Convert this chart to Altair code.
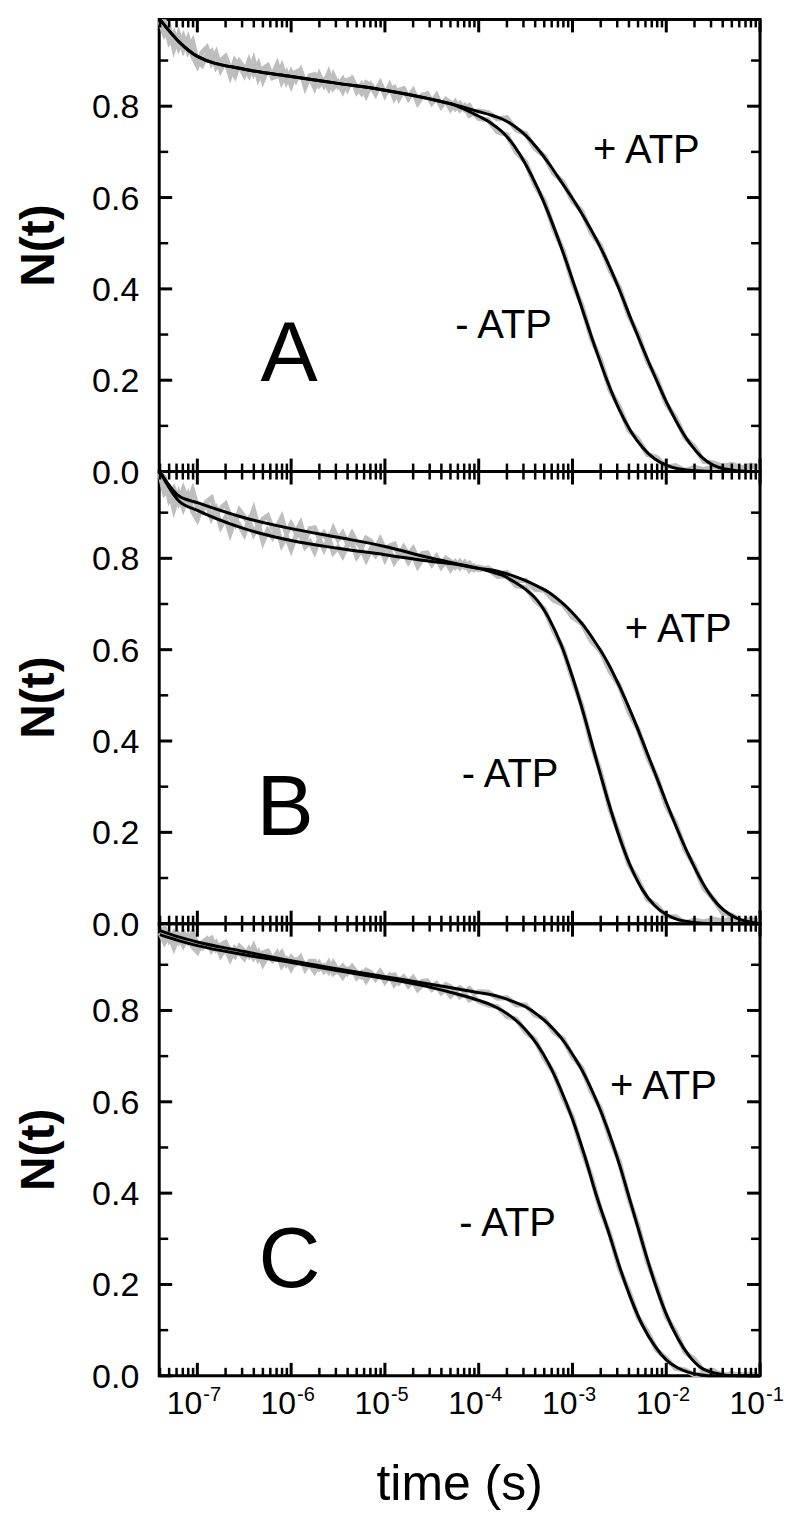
import altair as alt
import pandas as pd

# ---------------- data ----------------
# measured traces: sampling grid, log10(time / s)
DATA_LOGT = [
    -7.40, -7.35, -7.30, -7.25, -7.20, -7.15, -7.10, -7.05, -7.00,
    -6.95, -6.90, -6.85, -6.80, -6.75, -6.70, -6.65, -6.60, -6.55, -6.50,
    -6.45, -6.40, -6.35, -6.30, -6.25, -6.20, -6.15, -6.10, -6.05, -6.00,
    -5.95, -5.90, -5.85, -5.80, -5.75, -5.70, -5.65, -5.60, -5.55, -5.50,
    -5.45, -5.40, -5.35, -5.30, -5.25, -5.20, -5.15, -5.10, -5.05, -5.00,
    -4.95, -4.90, -4.85, -4.80, -4.75, -4.70, -4.65, -4.60, -4.55, -4.50,
    -4.45, -4.40, -4.35, -4.30, -4.25, -4.20, -4.15, -4.10, -4.05, -4.00,
    -3.9, -3.8, -3.7, -3.6, -3.5, -3.4, -3.3, -3.2, -3.1, -3.0,
    -2.9, -2.8, -2.7, -2.6, -2.5, -2.4, -2.3, -2.2, -2.1, -2.0,
    -1.9, -1.8, -1.7, -1.6, -1.5, -1.4, -1.3, -1.2, -1.1, -1.0]

DATA_A_MINUS = [
    0.985, 0.957, 0.972, 0.926, 0.957, 0.924, 0.948, 0.909, 0.889,
    0.918, 0.928, 0.895, 0.916, 0.880, 0.900, 0.867, 0.900, 0.887, 0.869,
    0.899, 0.872, 0.892, 0.857, 0.882, 0.868, 0.891, 0.854, 0.873, 0.846,
    0.874, 0.879, 0.851, 0.863, 0.841, 0.869, 0.847, 0.872, 0.840, 0.852,
    0.833, 0.857, 0.860, 0.832, 0.847, 0.824, 0.847, 0.834, 0.850, 0.825,
    0.845, 0.818, 0.835, 0.838, 0.817, 0.832, 0.807, 0.822, 0.827, 0.809,
    0.824, 0.801, 0.812, 0.794, 0.809, 0.792, 0.801, 0.780, 0.785, 0.773,
    0.770, 0.744, 0.738, 0.699, 0.678, 0.627, 0.593, 0.531, 0.485, 0.414,
    0.364, 0.292, 0.244, 0.178, 0.141, 0.091, 0.070, 0.037, 0.031, 0.010,
    0.013, 0.002, 0.009, 0.004, 0.011, 0.005, 0.013, 0.006, 0.012, 0.008]
DATA_A_PLUS = [
    0.985, 0.985, 0.942, 0.959, 0.928, 0.952, 0.920, 0.941, 0.899,
    0.890, 0.912, 0.920, 0.886, 0.900, 0.909, 0.881, 0.866, 0.897, 0.883,
    0.868, 0.900, 0.861, 0.882, 0.889, 0.862, 0.866, 0.887, 0.854, 0.875,
    0.857, 0.877, 0.842, 0.867, 0.869, 0.846, 0.857, 0.839, 0.867, 0.845,
    0.859, 0.838, 0.859, 0.841, 0.829, 0.851, 0.845, 0.827, 0.849, 0.828,
    0.837, 0.841, 0.817, 0.835, 0.820, 0.834, 0.812, 0.825, 0.826, 0.807,
    0.818, 0.800, 0.815, 0.808, 0.795, 0.806, 0.793, 0.801, 0.785, 0.790,
    0.786, 0.772, 0.775, 0.748, 0.740, 0.707, 0.691, 0.653, 0.634, 0.593,
    0.570, 0.523, 0.494, 0.441, 0.403, 0.341, 0.300, 0.241, 0.203, 0.148,
    0.118, 0.074, 0.054, 0.022, 0.019, 0.012, 0.016, 0.008, 0.014, 0.010]
DATA_B_MINUS = [
    0.987, 0.977, 0.930, 0.951, 0.923, 0.951, 0.923, 0.949, 0.912,
    0.902, 0.924, 0.932, 0.896, 0.910, 0.919, 0.891, 0.875, 0.905, 0.891,
    0.876, 0.906, 0.867, 0.886, 0.893, 0.866, 0.868, 0.889, 0.854, 0.875,
    0.857, 0.876, 0.841, 0.865, 0.867, 0.844, 0.855, 0.836, 0.864, 0.841,
    0.855, 0.833, 0.854, 0.835, 0.823, 0.844, 0.838, 0.819, 0.841, 0.819,
    0.827, 0.831, 0.806, 0.824, 0.808, 0.821, 0.799, 0.811, 0.812, 0.792,
    0.803, 0.786, 0.800, 0.794, 0.781, 0.793, 0.781, 0.789, 0.775, 0.781,
    0.776, 0.761, 0.761, 0.740, 0.736, 0.708, 0.689, 0.641, 0.602, 0.535,
    0.477, 0.394, 0.331, 0.250, 0.195, 0.130, 0.096, 0.053, 0.040, 0.016,
    0.015, 0.002, 0.008, 0.004, 0.010, 0.006, 0.011, 0.005, 0.009, 0.006]
DATA_B_PLUS = [
    0.985, 0.942, 0.952, 0.908, 0.941, 0.910, 0.937, 0.902, 0.885,
    0.913, 0.922, 0.888, 0.907, 0.870, 0.889, 0.855, 0.887, 0.872, 0.853,
    0.882, 0.854, 0.873, 0.837, 0.861, 0.846, 0.868, 0.830, 0.848, 0.820,
    0.848, 0.853, 0.825, 0.836, 0.815, 0.842, 0.820, 0.844, 0.813, 0.824,
    0.806, 0.829, 0.833, 0.804, 0.820, 0.797, 0.820, 0.807, 0.823, 0.798,
    0.818, 0.792, 0.809, 0.813, 0.792, 0.808, 0.783, 0.799, 0.804, 0.787,
    0.803, 0.781, 0.793, 0.776, 0.792, 0.779, 0.791, 0.774, 0.783, 0.775,
    0.779, 0.765, 0.769, 0.751, 0.752, 0.732, 0.730, 0.708, 0.699, 0.671,
    0.657, 0.619, 0.597, 0.552, 0.521, 0.464, 0.425, 0.365, 0.321, 0.258,
    0.220, 0.162, 0.127, 0.078, 0.055, 0.024, 0.019, 0.006, 0.009, 0.005]
DATA_C_MINUS = [
    0.970, 0.949, 0.966, 0.938, 0.964, 0.943, 0.962, 0.939, 0.928,
    0.948, 0.956, 0.932, 0.947, 0.921, 0.936, 0.913, 0.936, 0.926, 0.914,
    0.934, 0.915, 0.928, 0.902, 0.920, 0.910, 0.925, 0.898, 0.911, 0.892,
    0.911, 0.913, 0.894, 0.901, 0.885, 0.903, 0.887, 0.904, 0.881, 0.888,
    0.874, 0.891, 0.893, 0.872, 0.882, 0.865, 0.881, 0.870, 0.882, 0.863,
    0.876, 0.857, 0.868, 0.870, 0.854, 0.864, 0.846, 0.856, 0.859, 0.846,
    0.855, 0.839, 0.846, 0.832, 0.842, 0.830, 0.837, 0.823, 0.828, 0.820,
    0.812, 0.808, 0.787, 0.781, 0.753, 0.736, 0.695, 0.664, 0.609, 0.566,
    0.495, 0.437, 0.362, 0.309, 0.235, 0.186, 0.128, 0.096, 0.056, 0.038,
    0.016, 0.013, 0.002, 0.005, 0.001, 0.004, 0.000, 0.003, 0.001, 0.002]
DATA_C_PLUS = [
    0.973, 0.979, 0.954, 0.970, 0.951, 0.971, 0.951, 0.970, 0.943,
    0.937, 0.952, 0.958, 0.934, 0.944, 0.949, 0.929, 0.919, 0.940, 0.930,
    0.919, 0.940, 0.912, 0.926, 0.930, 0.911, 0.912, 0.926, 0.902, 0.916,
    0.903, 0.916, 0.891, 0.908, 0.908, 0.891, 0.898, 0.885, 0.904, 0.887,
    0.897, 0.882, 0.896, 0.882, 0.874, 0.888, 0.883, 0.869, 0.885, 0.869,
    0.875, 0.878, 0.861, 0.873, 0.862, 0.872, 0.856, 0.864, 0.865, 0.851,
    0.859, 0.846, 0.857, 0.852, 0.842, 0.850, 0.841, 0.848, 0.837, 0.841,
    0.840, 0.827, 0.828, 0.812, 0.812, 0.790, 0.782, 0.753, 0.738, 0.699,
    0.674, 0.622, 0.585, 0.520, 0.468, 0.389, 0.328, 0.249, 0.195, 0.130,
    0.096, 0.052, 0.036, 0.010, 0.012, 0.001, 0.005, 0.000, 0.003, 0.001]

# fitted curves
FIT_LOGT = [-7.4, -7.2, -7.0, -6.5, -6.0, -5.5, -5.0, -4.5, -4.25, -4.0,
            -3.875, -3.75, -3.625, -3.5, -3.375, -3.25, -3.125, -3.0,
            -2.875, -2.75, -2.625, -2.5, -2.375, -2.25, -2.125, -2.0,
            -1.875, -1.75, -1.625, -1.5, -1.25, -1.0]
FIT_A_MINUS = [0.990, 0.942, 0.909, 0.881, 0.865, 0.850, 0.835, 0.815, 0.802, 0.778,
               0.764, 0.744, 0.714, 0.673, 0.622, 0.562, 0.494, 0.420,
               0.343, 0.267, 0.196, 0.135, 0.087, 0.052, 0.028, 0.014,
               0.006, 0.003, 0.001, 0.0, 0.0, 0.0]
FIT_A_PLUS = [0.990, 0.942, 0.909, 0.881, 0.865, 0.850, 0.835, 0.815, 0.803, 0.788,
              0.781, 0.772, 0.757, 0.736, 0.708, 0.674, 0.636, 0.598,
              0.556, 0.510, 0.458, 0.398, 0.333, 0.270, 0.210, 0.153,
              0.103, 0.062, 0.032, 0.014, 0.002, 0.0]
FIT_B_MINUS = [0.990, 0.937, 0.922, 0.889, 0.865, 0.846, 0.826, 0.800, 0.789, 0.778,
               0.771, 0.763, 0.749, 0.732, 0.708, 0.668, 0.613, 0.540,
               0.455, 0.362, 0.272, 0.190, 0.123, 0.073, 0.040, 0.020,
               0.009, 0.004, 0.001, 0.0, 0.0, 0.0]
FIT_B_PLUS = [0.990, 0.926, 0.905, 0.865, 0.839, 0.822, 0.808, 0.793, 0.787, 0.778,
              0.775, 0.769, 0.761, 0.751, 0.739, 0.725, 0.705, 0.681,
              0.651, 0.614, 0.572, 0.520, 0.462, 0.398, 0.332, 0.266,
              0.203, 0.145, 0.094, 0.054, 0.012, 0.0]
FIT_C_MINUS = [0.966, 0.953, 0.942, 0.922, 0.905, 0.887, 0.870, 0.850, 0.837, 0.822,
               0.813, 0.800, 0.782, 0.758, 0.725, 0.682, 0.627, 0.562,
               0.485, 0.398, 0.321, 0.240, 0.168, 0.109, 0.066, 0.035,
               0.017, 0.007, 0.002, 0.0, 0.0, 0.0]
FIT_C_PLUS = [0.975, 0.961, 0.950, 0.929, 0.909, 0.891, 0.874, 0.857, 0.848, 0.839,
              0.835, 0.828, 0.819, 0.808, 0.791, 0.769, 0.741, 0.704,
              0.660, 0.605, 0.540, 0.463, 0.376, 0.288, 0.205, 0.135,
              0.081, 0.042, 0.017, 0.007, 0.0, 0.0]

DATA = {"A": (DATA_A_MINUS, DATA_A_PLUS), "B": (DATA_B_MINUS, DATA_B_PLUS),
        "C": (DATA_C_MINUS, DATA_C_PLUS)}
FITS = {"A": (FIT_A_MINUS, FIT_A_PLUS), "B": (FIT_B_MINUS, FIT_B_PLUS),
        "C": (FIT_C_MINUS, FIT_C_PLUS)}

# annotation anchors (time, N)
PLUS_LABEL_POS = {"A": (1.65e-3, 0.702), "B": (3.61e-3, 0.643), "C": (2.51e-3, 0.632)}
MINUS_LABEL_POS = {"A": (5.61e-5, 0.319), "B": (6.58e-5, 0.326), "C": (6.19e-5, 0.332)}
LETTER_POS = {"A": (4.72e-7, 0.199), "B": (4.27e-7, 0.195), "C": (4.49e-7, 0.194)}

X_MAJOR = [1e-7, 1e-6, 1e-5, 1e-4, 1e-3, 1e-2, 1e-1]
X_TICK_BASE = ["10"] * 7
X_TICK_EXP = ["-7", "-6", "-5", "-4", "-3", "-2", "-1"]
X_DOMAIN = [3.92e-8, 0.1]
X_MINOR = [m * 10.0 ** e for e in range(-8, -1) for m in range(2, 10)
           if X_DOMAIN[0] < m * 10.0 ** e < X_DOMAIN[1]]
Y_MAJOR = [0.0, 0.2, 0.4, 0.6, 0.8]
Y_TICK_LABELS = ["0.0", "0.2", "0.4", "0.6", "0.8"]
Y_MINOR = [0.1, 0.3, 0.5, 0.7, 0.9]
Y_DOMAIN = [0.0, 0.99]
Y_TITLE = "N(t)"
X_TITLE = "time (s)"

# ---------------- style ----------------
W, H = 602, 453
FONT = "Liberation Sans"
GRAY = "#bebebe"
MAJ, MIN = 13, 8

xs = alt.Scale(type="log", domain=X_DOMAIN)
ys = alt.Scale(domain=Y_DOMAIN)


def X(field="t"):
    return alt.X(f"{field}:Q", scale=xs, axis=None)


def Y(field="n"):
    return alt.Y(f"{field}:Q", scale=ys, axis=None)


def xtick_layer(vals, y0, y1, w):
    return alt.Chart(pd.DataFrame({"t": vals})).mark_rule(color="black", strokeWidth=w).encode(
        x=X(), y=alt.value(y0), y2=alt.value(y1))


def ytick_layer(vals, x0, x1, w):
    return alt.Chart(pd.DataFrame({"n": vals})).mark_rule(color="black", strokeWidth=w).encode(
        y=Y(), x=alt.value(x0), x2=alt.value(x1))


def panel(key, show_x):
    dm, dp = DATA[key]
    fm, fp = FITS[key]
    gdf = pd.DataFrame({
        "t": [10.0 ** v for v in DATA_LOGT] * 2,
        "n": dm + dp,
        "s": ["-ATP"] * len(dm) + ["+ATP"] * len(dp)})
    fdf = pd.DataFrame({
        "t": [10.0 ** v for v in FIT_LOGT] * 2,
        "n": fm + fp,
        "s": ["-ATP"] * len(fm) + ["+ATP"] * len(fp)})
    gray = alt.Chart(gdf).mark_line(color=GRAY, strokeWidth=5).encode(
        x=X(), y=Y(), detail="s:N")
    fit = alt.Chart(fdf).mark_line(color="black", strokeWidth=3, interpolate="monotone").encode(
        x=X(), y=Y(), detail="s:N")
    ldf = pd.DataFrame({
        "t": [PLUS_LABEL_POS[key][0], MINUS_LABEL_POS[key][0]],
        "n": [PLUS_LABEL_POS[key][1], MINUS_LABEL_POS[key][1]],
        "txt": ["+ ATP", "- ATP"]})
    atp = alt.Chart(ldf).mark_text(align="left", baseline="middle", fontSize=40, font=FONT,
                                   color="black").encode(x=X(), y=Y(), text="txt:N")
    lt = pd.DataFrame({"t": [LETTER_POS[key][0]], "n": [LETTER_POS[key][1]], "txt": [key]})
    letter = alt.Chart(lt).mark_text(align="left", baseline="alphabetic", fontSize=86,
                                     font=FONT, color="black").encode(
        x=X(), y=Y(), text="txt:N")
    ticks = [
        xtick_layer(X_MAJOR, H, H - MAJ, 3), xtick_layer(X_MINOR, H, H - MIN, 2.5),
        xtick_layer(X_MAJOR, 0, MAJ, 3), xtick_layer(X_MINOR, 0, MIN, 2.5),
        ytick_layer(Y_MAJOR, 0, MAJ, 3), ytick_layer(Y_MINOR, 0, MIN + 1, 2.5),
        ytick_layer(Y_MAJOR, W, W - MAJ, 3), ytick_layer(Y_MINOR, W, W - MIN - 1, 2.5),
    ]
    # y tick labels and title (as text)
    ylab = alt.Chart(pd.DataFrame({"n": Y_MAJOR, "lab": Y_TICK_LABELS})).mark_text(
        align="right", baseline="middle", fontSize=34, font=FONT, color="black", dy=2
    ).encode(y=Y(), x=alt.value(-20), text="lab:N")
    ytitle = alt.Chart(pd.DataFrame({"lab": [Y_TITLE]})).mark_text(
        angle=270, align="center", baseline="middle", fontSize=48, fontWeight="bold",
        font=FONT, color="black"
    ).encode(x=alt.value(-119), y=alt.value(H / 2), text="lab:N")
    layers = [gray, fit, *ticks, atp, letter, ylab, ytitle]
    if show_x:
        xdf = pd.DataFrame({"t": X_MAJOR, "b": X_TICK_BASE, "e": X_TICK_EXP})
        xbase = alt.Chart(xdf).mark_text(
            align="right", baseline="alphabetic", fontSize=32, font=FONT, color="black", dx=5
        ).encode(x=X(), y=alt.value(H + 38), text="b:N")
        xexp = alt.Chart(xdf).mark_text(
            align="left", baseline="alphabetic", fontSize=20, font=FONT, color="black", dx=6
        ).encode(x=X(), y=alt.value(H + 25), text="e:N")
        xtitle = alt.Chart(pd.DataFrame({"lab": [X_TITLE]})).mark_text(
            align="center", baseline="alphabetic", fontSize=50, font=FONT, color="black"
        ).encode(x=alt.value(W / 2), y=alt.value(H + 124), text="lab:N")
        layers += [xbase, xexp, xtitle]
    return alt.layer(*layers).properties(width=W, height=H)


chart = alt.vconcat(
    panel("A", False), panel("B", False), panel("C", True),
    spacing=0, bounds="flush",
).properties(
    padding={"left": 6.5, "top": 0, "right": 0, "bottom": 0}
).configure_view(stroke="black", strokeWidth=3)

chart.save("out.html", embed_options={"renderer": "svg", "actions": False})
